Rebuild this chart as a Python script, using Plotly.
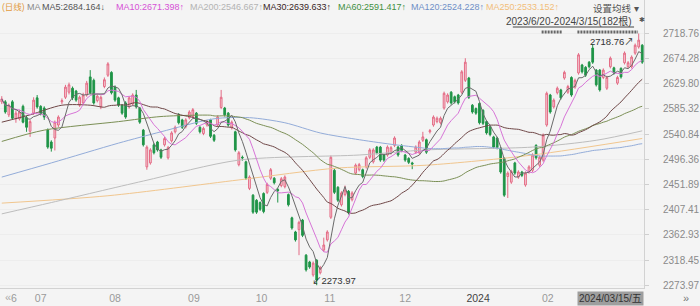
import numpy as np
import pandas as pd
import plotly.graph_objects as go

# ---------------- data ----------------
opens = [2598,2598,2575,2598,2568,2568,2590,2570,2546,2578,
         2605,2590,2587,2548,2527,2534,2557,2598,2606,2615,
         2622,2617,2592,2596,2610,2642,2636,2600,2589,2625,
         2645,2650,2624,2605,2592,2596,2589,2594,2610,2587,
         2548,2483,2490,2522,2527,2513,2522,2499,2529,2545,
         2575,2566,2554,2570,2572,2578,2553,2542,2557,2566,
         2539,2557,2588,2587,2578,2552,2545,2487,2500,2492,
         2445,2433,2424,2420,2436,2438,2463,2463,2443,2450,
         2448,2434,2393,2368,2372,2389,2327,2315,2292,2318,
         2296,2336,2354,2394,2477,2447,2416,2434,2440,2425,
         2472,2478,2478,2483,2500,2492,2518,2518,2504,2504,
         2508,2521,2518,2521,2504,2498,2490,2509,2508,2530,
         2531,2545,2557,2563,2561,2587,2598,2615,2607,2610,
         2615,2636,2640,2592,2586,2595,2583,2563,2554,2536,
         2534,2516,2498,2466,2456,2490,2465,2474,2451,2474,
         2477,2521,2486,2495,2557,2610,2589,2614,2619,2640,
         2615,2641,2624,2649,2663,2659,2668,2693,2654,2654,
         2641,2622,2660,2658,2631,2657,2667,2660,2660,2684,
         2695,2698]
highs = [2608,2601,2595,2601,2583,2584,2593,2573,2566,2606,
         2610,2592,2590,2551,2530,2565,2574,2604,2628,2632,
         2625,2619,2609,2614,2635,2654,2639,2611,2609,2641,
         2668,2652,2627,2607,2594,2599,2608,2613,2619,2589,
         2550,2521,2516,2525,2529,2515,2536,2520,2546,2556,
         2578,2568,2569,2583,2587,2580,2555,2554,2566,2568,
         2541,2574,2619,2589,2580,2565,2547,2511,2503,2494,
         2468,2435,2426,2422,2438,2455,2481,2465,2446,2465,
         2468,2436,2395,2370,2388,2391,2329,2317,2316,2320,
         2308,2358,2371,2503,2480,2449,2440,2450,2442,2440,
         2489,2490,2480,2502,2516,2516,2520,2520,2506,2521,
         2520,2537,2520,2523,2506,2500,2492,2521,2530,2545,
         2533,2550,2574,2572,2572,2616,2613,2617,2609,2612,
         2654,2675,2642,2594,2588,2597,2585,2565,2556,2538,
         2536,2518,2500,2475,2478,2492,2477,2476,2475,2486,
         2507,2523,2503,2542,2616,2612,2604,2625,2621,2653,
         2628,2643,2639,2684,2665,2661,2670,2700,2656,2656,
         2657,2644,2678,2660,2644,2659,2687,2670,2680,2701,
         2718.76,2700]
lows = [2594,2577,2571,2566,2561,2565,2560,2545,2536,2575,
        2586,2574,2566,2515,2510,2512,2553,2594,2603,2611,
        2601,2598,2589,2593,2607,2611,2593,2597,2585,2622,
        2642,2611,2598,2589,2575,2568,2586,2591,2586,2559,
        2519,2478,2487,2505,2510,2497,2519,2496,2526,2542,
        2558,2550,2551,2567,2569,2557,2542,2539,2554,2534,
        2527,2554,2585,2572,2554,2549,2510,2484,2494,2460,
        2442,2400,2400,2405,2401,2435,2460,2452,2420,2447,
        2445,2413,2372,2351,2327,2359,2298,2303,2289,2273.97,
        2293,2333,2351,2391,2435,2421,2413,2431,2399,2422,
        2469,2475,2463,2480,2497,2489,2505,2492,2492,2501,
        2505,2518,2501,2509,2492,2488,2479,2506,2505,2527,
        2506,2542,2554,2560,2558,2584,2595,2593,2595,2593,
        2612,2633,2603,2577,2575,2558,2557,2540,2537,2515,
        2514,2471,2430,2428,2453,2469,2462,2465,2448,2471,
        2474,2496,2483,2492,2554,2577,2586,2611,2602,2637,
        2612,2607,2621,2646,2648,2642,2657,2665,2625,2616,
        2638,2619,2657,2646,2628,2639,2664,2657,2657,2681,
        2692,2665]
closes = [2603,2580,2592,2569,2578,2580,2562,2553,2563,2601,
          2589,2578,2571,2518,2516,2562,2571,2600,2624,2628,
          2605,2601,2606,2610,2631,2614,2596,2608,2606,2637,
          2665,2614,2601,2592,2578,2571,2605,2610,2589,2562,
          2522,2518,2513,2508,2513,2500,2533,2517,2543,2553,
          2561,2553,2566,2580,2584,2560,2545,2551,2563,2537,
          2530,2571,2606,2575,2557,2562,2513,2508,2499,2463,
          2465,2403,2403,2408,2404,2452,2478,2455,2441,2462,
          2465,2416,2375,2354,2385,2362,2301,2306,2313,2283,
          2305,2345,2368,2500,2438,2424,2437,2442,2402,2437,
          2486,2487,2466,2499,2513,2513,2508,2495,2495,2518,
          2517,2534,2504,2512,2495,2491,2488,2518,2527,2536,
          2509,2547,2571,2569,2569,2613,2610,2596,2598,2596,
          2651,2668,2606,2580,2578,2561,2560,2543,2540,2518,
          2517,2474,2433,2472,2475,2472,2474,2468,2472,2483,
          2504,2499,2500,2539,2613,2580,2601,2622,2605,2650,
          2625,2610,2636,2681,2651,2645,2660,2668,2628,2619,
          2654,2641,2675,2649,2641,2642,2684,2667,2677,2698,
          2707,2668]

ma30_head_idx = [0, 8, 17, 25]
ma30_head_val = [2562, 2575, 2592, 2592]
ma60_head_idx = [0, 12, 33, 45]
ma60_head_val = [2528, 2548, 2563, 2572]
ma120_head_idx = [0, 14, 33, 45, 60, 70, 80, 90, 100, 110]
ma120_head_val = [2465, 2490, 2525, 2545, 2568, 2570, 2561, 2543, 2532, 2523]
ma200_idx = [0, 14, 40, 67, 101, 120, 150, 168, 181]
ma200_val = [2400, 2420, 2458, 2495, 2504, 2513, 2518, 2530, 2546.7]
ma250_idx = [0, 30, 67, 95, 120, 150, 181]
ma250_val = [2419, 2432, 2460, 2481, 2486, 2504, 2533.2]

# legend labels (name, last value, arrow, colour)
ma_names = ["MA5", "MA10", "MA200", "MA30", "MA60", "MA120", "MA250"]
ma_last = ["2684.164", "2671.398", "2546.667", "2639.633", "2591.417",
           "2524.228", "2533.152"]
ma_arrow = ["↓", "↑", "↑", "↑", "↑", "↑", "↑"]
ma_text_color = ["#555555", "#d651d6", "#b3b3b3", "#3a2626", "#3f8f3f",
                 "#6f8fc7", "#f2be7a"]

y_ticks = [2273.97, 2318.45, 2362.93, 2407.41, 2451.89, 2496.36,
           2540.84, 2585.32, 2629.80, 2674.28, 2718.76]
month_pos = [3.4, 11, 32, 54.3, 73.4, 92.7, 114, 134.6, 154.3]
month_lbl = ["6", "07", "08", "09", "10", "11", "12",
             "<span style='color:#444'>2024</span>", "02"]

# ---------------- figure ----------------
n = len(closes)
xs = list(range(n))
s = pd.Series(closes, dtype=float)
ma5 = s.rolling(5, min_periods=1).mean()
ma10 = s.rolling(10, min_periods=1).mean()


def joined(head_idx, head_val, window):
    r = s.rolling(window).mean()
    start = window - 1
    return (list(head_idx) + list(range(start, n)),
            list(head_val) + list(r.iloc[start:]))


fig = go.Figure()

def add_line(x, y, color, shape="linear", width=1):
    fig.add_trace(go.Scatter(x=x, y=y, mode="lines", hoverinfo="skip",
                             line=dict(color=color, width=width, shape=shape,
                                       smoothing=0.8 if shape == "spline" else None),
                             showlegend=False))

add_line(ma250_idx, ma250_val, "#f1c68e", "spline")
add_line(ma200_idx, ma200_val, "#bdbdbd", "spline")
x120, y120 = joined(ma120_head_idx, ma120_head_val, 120)
add_line(x120, y120, "#93acd9", "spline")
x60, y60 = joined(ma60_head_idx, ma60_head_val, 60)
add_line(x60, y60, "#7b8f55", "spline")
x30, y30 = joined(ma30_head_idx, ma30_head_val, 30)
add_line(x30, y30, "#6e4646", "spline")
add_line(xs, ma10, "#d774d7")
add_line(xs, ma5, "#6a6a6a")

fig.add_trace(go.Candlestick(
    x=xs, open=opens, high=highs, low=lows, close=closes,
    increasing=dict(line=dict(color="#e46a84", width=1), fillcolor="#f5d3da"),
    decreasing=dict(line=dict(color="#1f9447", width=1), fillcolor="#1f9447"),
    whiskerwidth=0, hoverinfo="skip", showlegend=False))

BG = "#f4f4f4"
FONT = "Liberation Sans, Noto Sans CJK SC, sans-serif"
fig.update_layout(
    width=700, height=306, autosize=False,
    margin=dict(l=0, r=52, t=0, b=18),
    paper_bgcolor=BG, plot_bgcolor=BG,
    font=dict(family=FONT, size=11, color="#888"),
    showlegend=False,
)
fig.update_xaxes(range=[-0.5, 181.5], rangeslider=dict(visible=False),
                 tickvals=month_pos, ticktext=month_lbl, ticks="",
                 tickfont=dict(size=10.5, color="#9a9a9a"),
                 showgrid=False, zeroline=False,
                 showline=True, linecolor="#d2d2d2", linewidth=1)
fig.update_yaxes(side="right", range=[2269.0, 2777.9],
                 tickvals=y_ticks, ticktext=[f"{v:.2f}" for v in y_ticks],
                 ticks="outside", ticklen=4, tickcolor="#cfcfcf",
                 ticklabelstandoff=12,
                 tickfont=dict(size=10, color="#8a8a8a"),
                 showgrid=True, gridcolor="#ededed", zeroline=False,
                 showline=True, linecolor="#d2d2d2", linewidth=1)

H = 288.0
W = 648.0
def py(px):
    return 1 - px / H
def pxx(px):
    return px / W

ann = [
    dict(text="(日线)", x=pxx(0), y=py(7), xanchor="left", yanchor="middle",
         font=dict(size=8.5, color="#e39a3c")),
    dict(text="MA", x=pxx(25), y=py(7), xanchor="left", yanchor="middle",
         font=dict(size=9, color="#8a8a8a")),
]
legend_x = [40, 115, 189, 263, 338, 412, 487]
for lx, nm, v, a, c in zip(legend_x, ma_names, ma_last, ma_arrow, ma_text_color):
    ann.append(dict(text=f"{nm}:{v}{a}", x=pxx(lx), y=py(7), xanchor="left",
                    yanchor="middle", font=dict(size=9, color=c)))

ann += [
    dict(text="设置均线 ▾", x=pxx(645), y=py(8), xanchor="right", yanchor="middle",
         font=dict(size=9.5, color="#555")),
    dict(text="2023/6/20-2024/3/15(182根)", x=pxx(638), y=py(21), xanchor="right",
         yanchor="middle", font=dict(size=10, color="#444")),
    dict(text="✱", x=pxx(641), y=py(20), xanchor="left", yanchor="middle",
         font=dict(size=7, color="#555")),
    dict(text="2718.76↗", x=pxx(640), y=py(41), xanchor="right", yanchor="middle",
         font=dict(size=9.5, color="#333")),
    dict(text="↙2273.97", x=pxx(312), y=py(280), xanchor="left", yanchor="middle",
         font=dict(size=9.5, color="#333")),
    dict(text="2024/03/15/五", x=pxx(648), y=py(298), xanchor="right", yanchor="middle",
         bgcolor="#9e9e9e", font=dict(size=10, color="#333"), borderpad=1),
    dict(text="«", x=pxx(3), y=py(297), xanchor="left", yanchor="middle",
         font=dict(size=11, color="#aaa")),
    dict(text="»", x=pxx(690), y=py(298), xanchor="center", yanchor="middle",
         font=dict(size=11, color="#777")),
]
for a in ann:
    a.update(xref="paper", yref="paper", showarrow=False)
fig.update_layout(annotations=ann)

shapes = [
    dict(type="line", x0=pxx(516), x1=pxx(638), y0=py(27), y1=py(27),
         line=dict(color="#444", width=1)),
    dict(type="line", x0=pxx(545), x1=pxx(566), y0=py(32), y1=py(32),
         line=dict(color="#666", width=3, dash="2px,1px")),
    dict(type="line", x0=pxx(581), x1=pxx(642), y0=py(32), y1=py(32),
         line=dict(color="#666", width=3, dash="2px,1px")),
]
for sh in shapes:
    sh.update(xref="paper", yref="paper")
fig.update_layout(shapes=shapes)

fig.write_html("out.html")
